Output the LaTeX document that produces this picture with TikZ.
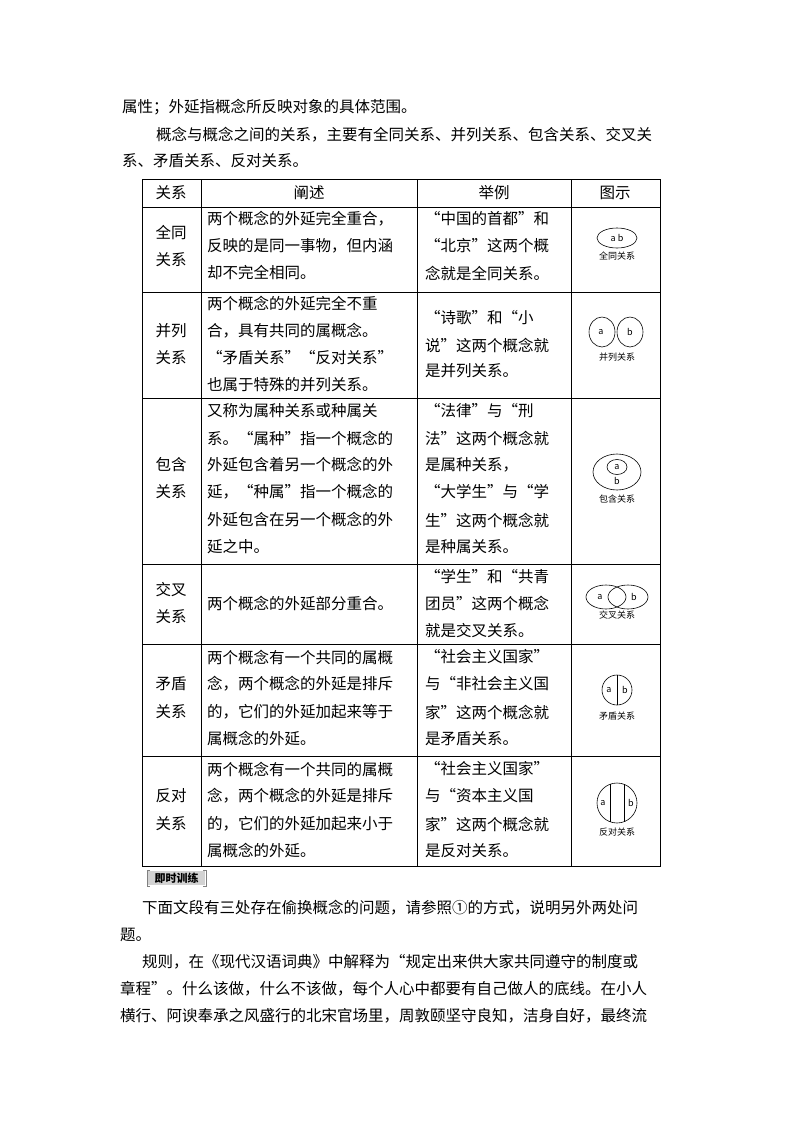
\documentclass[tikz,border=0pt]{standalone}
\usepackage{fontspec}
\setmainfont{Noto Sans CJK SC}
\newfontfamily\cjk{Noto Sans CJK SC}
\begin{document}
\begin{tikzpicture}[x=1pt,y=-1pt,
  t/.style={anchor=west,inner sep=0pt,font=\fontsize{15.5}{15.5}\selectfont},
  tc/.style={inner sep=0pt,font=\fontsize{15.5}{15.5}\selectfont},
  sm/.style={inner sep=0pt,font=\fontsize{9}{9}\selectfont},
  ab/.style={inner sep=0pt,font=\fontsize{9}{9}\selectfont},
  grid/.style={draw,line width=0.8pt},
  ic/.style={draw,line width=0.6pt}]
\fill[white] (0,0) rectangle (800,1132);
\useasboundingbox (0,0) rectangle (800,1132);
% top text
\node[t] (l1) at (122,107) {属性；外延指概念所反映对象的具体范围。};
\node[t] (l2) at (156,135) {概念与概念之间的关系，主要有全同关系、并列关系、包含关系、交叉关};
\node[t] (l3) at (122,161) {系、矛盾关系、反对关系。};
% table grid
\draw[grid] (142,179) rectangle (660,866);
\foreach \x in {201,417,571} \draw[grid] (\x,179) -- (\x,866);
\foreach \y in {207,292,398,564,644,756} \draw[grid] (142,\y) -- (660,\y);
% header
\node[tc] (h1) at (171,193) {关系};
\node[tc] (h2) at (309,193) {阐述};
\node[tc] (h3) at (494,193) {举例};
\node[tc] (h4) at (615,193) {图示};
% col 1
\node[tc] (r1a) at (171,233) {全同}; \node[tc] (r1b) at (171,260) {关系};
\node[tc] (r2a) at (171,331) {并列}; \node[tc] (r2b) at (171,358) {关系};
\node[tc] (r3a) at (171,465) {包含}; \node[tc] (r3b) at (171,492) {关系};
\node[tc] (r4a) at (171,590) {交叉}; \node[tc] (r4b) at (171,617) {关系};
\node[tc] (r5a) at (171,684) {矛盾}; \node[tc] (r5b) at (171,712) {关系};
\node[tc] (r6a) at (171,796) {反对}; \node[tc] (r6b) at (171,824) {关系};
% col 2
\node[t] (d11) at (207,219) {两个概念的外延完全重合，};
\node[t] (d12) at (207,246) {反映的是同一事物，但内涵};
\node[t] (d13) at (207,273) {却不完全相同。};
\node[t] (d21) at (207,304) {两个概念的外延完全不重};
\node[t] (d22) at (207,331) {合，具有共同的属概念。};
\node[t] (d23) at (207,358) {“矛盾关系”“反对关系”};
\node[t] (d24) at (207,385) {也属于特殊的并列关系。};
\node[t] (d31) at (207,411) {又称为属种关系或种属关};
\node[t] (d32) at (207,438) {系。“属种”指一个概念的};
\node[t] (d33) at (207,465) {外延包含着另一个概念的外};
\node[t] (d34) at (207,492) {延，“种属”指一个概念的};
\node[t] (d35) at (207,520) {外延包含在另一个概念的外};
\node[t] (d36) at (207,547) {延之中。};
\node[t] (d41) at (207,604) {两个概念的外延部分重合。};
\node[t] (d51) at (207,657) {两个概念有一个共同的属概};
\node[t] (d52) at (207,684) {念，两个概念的外延是排斥};
\node[t] (d53) at (207,712) {的，它们的外延加起来等于};
\node[t] (d54) at (207,739) {属概念的外延。};
\node[t] (d61) at (207,769) {两个概念有一个共同的属概};
\node[t] (d62) at (207,796) {念，两个概念的外延是排斥};
\node[t] (d63) at (207,824) {的，它们的外延加起来小于};
\node[t] (d64) at (207,851) {属概念的外延。};
% col 3
\node[t] (e11) at (425,219) {“中国的首都”和};
\node[t] (e12) at (425,246) {“北京”这两个概};
\node[t] (e13) at (425,273) {念就是全同关系。};
\node[t] (e21) at (425,318) {“诗歌”和“小};
\node[t] (e22) at (425,345) {说”这两个概念就};
\node[t] (e23) at (425,371) {是并列关系。};
\node[t] (e31) at (425,411) {“法律”与“刑};
\node[t] (e32) at (425,438) {法”这两个概念就};
\node[t] (e33) at (425,465) {是属种关系，};
\node[t] (e34) at (425,492) {“大学生”与“学};
\node[t] (e35) at (425,520) {生”这两个概念就};
\node[t] (e36) at (425,547) {是种属关系。};
\node[t] (e41) at (425,577) {“学生”和“共青};
\node[t] (e42) at (425,604) {团员”这两个概念};
\node[t] (e43) at (425,631) {就是交叉关系。};
\node[t] (e51) at (425,657) {“社会主义国家”};
\node[t] (e52) at (425,684) {与“非社会主义国};
\node[t] (e53) at (425,712) {家”这两个概念就};
\node[t] (e54) at (425,739) {是矛盾关系。};
\node[t] (e61) at (425,769) {“社会主义国家”};
\node[t] (e62) at (425,796) {与“资本主义国};
\node[t] (e63) at (425,824) {家”这两个概念就};
\node[t] (e64) at (425,851) {是反对关系。};
% icons
\draw[ic] (617,238) ellipse [x radius=20,y radius=10];
\node[ab] (i1) at (617,238) {a b};
\node[sm] (c1) at (617,256) {全同关系};
\draw[ic] (602,332) ellipse [x radius=13,y radius=15];
\draw[ic] (630,332) ellipse [x radius=13,y radius=15];
\node[ab] (i2a) at (601,332) {a}; \node[ab] (i2b) at (630,332) {b};
\node[sm] (c2) at (617,357) {并列关系};
\draw[ic] (617,472) ellipse [x radius=24,y radius=18];
\draw[ic] (617,467) ellipse [x radius=10,y radius=7.5];
\node[ab] (i3a) at (617,467) {a}; \node[ab] (i3b) at (617,481) {b};
\node[sm] (c3) at (617,499) {包含关系};
\draw[ic] (606,597) ellipse [x radius=20,y radius=12];
\draw[ic] (628,597) ellipse [x radius=20,y radius=12];
\node[ab] (i4a) at (600,597) {a}; \node[ab] (i4b) at (634,597) {b};
\node[sm] (c4) at (617,615) {交叉关系};
\draw[ic] (617,690) circle (15);
\draw[ic] (617,675) -- (617,705);
\node[ab] (i5a) at (609,690) {a}; \node[ab] (i5b) at (625,690) {b};
\node[sm] (c5) at (617,716) {矛盾关系};
\draw[ic] (617,803) circle (20);
\draw[ic] (610,784) -- (610,822);
\draw[ic] (624,784) -- (624,822);
\node[ab] (i6a) at (603,803) {a}; \node[ab] (i6b) at (631,803) {b};
\node[sm] (c6) at (617,832) {反对关系};
% label box
\fill[gray!35] (148,871) rectangle (205,885);
\draw[gray,line width=0.8pt] (150,870) -- (147,870) -- (147,886) -- (150,886);
\draw[gray,line width=0.8pt] (203,870) -- (206,870) -- (206,886) -- (203,886);
\node[inner sep=0pt,font=\fontsize{11}{11}\selectfont\bfseries] (lab) at (176.5,878) {即时训练};
% bottom text
\node[t] (p1) at (142,908) {下面文段有三处存在偷换概念的问题，请参照①的方式，说明另外两处问};
\node[t] (p2) at (120,935) {题。};
\node[t] (p3) at (142,962) {规则，在《现代汉语词典》中解释为“规定出来供大家共同遵守的制度或};
\node[t] (p4) at (120,989) {章程”。什么该做，什么不该做，每个人心中都要有自己做人的底线。在小人};
\node[t] (p5) at (120,1016) {横行、阿谀奉承之风盛行的北宋官场里，周敦颐坚守良知，洁身自好，最终流};
\end{tikzpicture}
\end{document}
